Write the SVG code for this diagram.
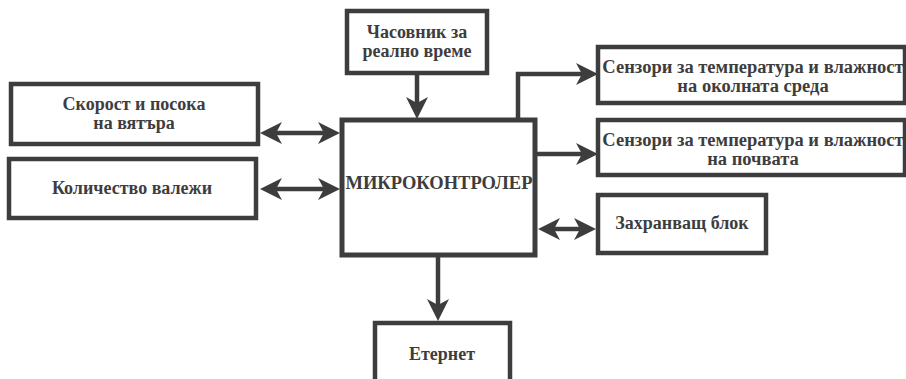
<svg xmlns="http://www.w3.org/2000/svg" width="906" height="379" viewBox="0 0 906 379">
<style>
.box{fill:#fff;stroke:#3d3d3d;stroke-width:4.5}
.main{fill:#fff;stroke:#3d3d3d;stroke-width:5}
.t{font-family:'Liberation Serif','Times New Roman','DejaVu Serif',serif;font-weight:700;font-size:18px;fill:#3d3d3d;text-anchor:middle}
.w{font-size:18.5px}
.c{fill:none;stroke:#3d3d3d;stroke-width:4.5}
</style>
<defs>
<marker id="ah" viewBox="0 0 22 22" refX="7" refY="11" markerWidth="22" markerHeight="22" markerUnits="userSpaceOnUse" orient="auto-start-reverse">
<path d="M22,11 L0,0 L6,11 L0,22 Z" fill="#3d3d3d"/>
</marker>
</defs>
<rect width="906" height="379" fill="#fff"/>
<g id="connectors">
<path class="c" d="M417,73 V104" marker-end="url(#ah)"/>
<path class="c" d="M275,133 H325" marker-start="url(#ah)" marker-end="url(#ah)"/>
<path class="c" d="M275,189 H325" marker-start="url(#ah)" marker-end="url(#ah)"/>
<path class="c" d="M518,120 V74 H583" marker-end="url(#ah)"/>
<path class="c" d="M537,154 H583" marker-end="url(#ah)"/>
<path class="c" d="M553,229 H581" marker-start="url(#ah)" marker-end="url(#ah)"/>
<path class="c" d="M438,257 V306" marker-end="url(#ah)"/>
</g>
<g id="clock">
<rect class="box" x="347" y="11" width="140" height="62"/>
<text class="t" x="417" y="38">Часовник за</text>
<text class="t" x="417" y="57">реално време</text>
</g>
<g id="wind">
<rect class="box" x="11" y="84" width="247" height="60"/>
<text class="t" x="134" y="110">Скорост и посока</text>
<text class="t" x="134" y="129">на вятъра</text>
</g>
<g id="rain">
<rect class="box" x="9" y="159" width="247" height="59"/>
<text class="t" x="132" y="194">Количество валежи</text>
</g>
<g id="mcu">
<rect class="main" x="342" y="120" width="193" height="135"/>
<text class="t w" x="439" y="189">МИКРОКОНТРОЛЕР</text>
</g>
<g id="sensor-air">
<rect class="box" x="598" y="47" width="307" height="56"/>
<text class="t w" x="753" y="73">Сензори за температура и влажност</text>
<text class="t w" x="753" y="92">на околната среда</text>
</g>
<g id="sensor-soil">
<rect class="box" x="598" y="120" width="307" height="55"/>
<text class="t w" x="753" y="146">Сензори за температура и влажност</text>
<text class="t w" x="753" y="165">на почвата</text>
</g>
<g id="storage">
<rect class="box" x="598" y="195" width="168" height="58"/>
<text class="t" x="682" y="229">Захранващ блок</text>
</g>
<g id="ethernet">
<rect class="box" x="375" y="323" width="135" height="70"/>
<text class="t" x="442" y="360">Етернет</text>
</g>
</svg>
